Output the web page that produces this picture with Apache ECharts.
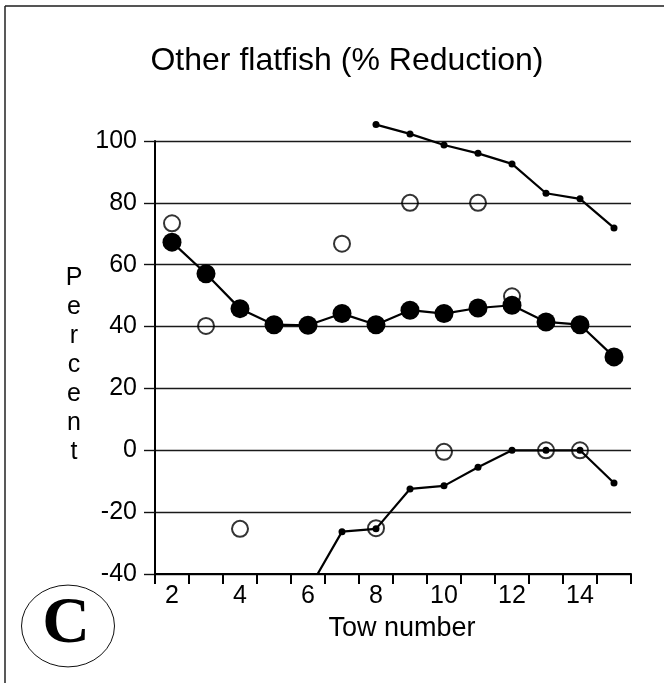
<!DOCTYPE html>
<html>
<head>
<meta charset="utf-8">
<script src="https://cdn.jsdelivr.net/npm/echarts@6/dist/echarts.min.js"></script>
<style>
  html, body { margin: 0; padding: 0; background: #fff; }
  #chart { width: 664px; height: 683px; }
</style>
</head>
<body>
<div id="chart"></div>
<script>
// Tow numbers along the x axis
const tows = ['2', '3', '4', '5', '6', '7', '8', '9', '10', '11', '12', '13', '14', '15'];

// Mean percent reduction per tow (large filled circles)
const meanPct = [67.3, 57.1, 45.8, 40.6, 40.4, 44.2, 40.6, 45.3, 44.2, 46.0, 46.9, 41.5, 40.6, 30.2];

// Upper bound line (small dots), tows 8-15
const upperPct = [null, null, null, null, null, null, 105.3, 102.3, 98.7, 96.0, 92.6, 83.1, 81.3, 71.9];

// Lower bound line (small dots), tows 6-15
const lowerPct = [null, null, null, null, -45.4, -26.3, -25.4, -12.5, -11.5, -5.5, 0, 0, 0, -10.6];

// Individual tow values (open circles)
const towPct = [73.4, 40.2, -25.4, null, null, 66.8, -25.2, 80, -0.5, 80, 49.8, 0, 0, null];

// Y axis range and step
const yMin = -40, yMax = 100, yStep = 20;

const FONT = '"Liberation Sans", Arial, Helvetica, sans-serif';

const chart = echarts.init(document.getElementById('chart'), null, { renderer: 'canvas' });

chart.setOption({
  backgroundColor: '#fff',
  animation: false,
  title: {
    text: 'Other flatfish (% Reduction)',
    left: 342,
    textAlign: 'center',
    top: 40,
    textStyle: { fontFamily: FONT, fontSize: 32, fontWeight: 'normal', color: '#000' }
  },
  grid: { left: 155, right: 33, top: 141, bottom: 109, containLabel: false },
  xAxis: {
    type: 'category',
    data: tows,
    boundaryGap: true,
    axisLine: { show: true, onZero: false, lineStyle: { color: '#000', width: 2 } },
    axisTick: { show: true, interval: 0, inside: false, length: 10, lineStyle: { color: '#000', width: 2 } },
    axisLabel: { interval: 1, margin: 10, fontFamily: FONT, fontSize: 25, color: '#000' },
    splitLine: { show: false },
    name: 'Tow number',
    nameLocation: 'middle',
    nameGap: 41,
    nameTextStyle: { fontFamily: FONT, fontSize: 27, color: '#000', padding: [0, 0, 0, 18] }
  },
  yAxis: {
    type: 'value',
    min: yMin,
    max: yMax,
    interval: yStep,
    axisLine: { show: true, lineStyle: { color: '#000', width: 2 } },
    axisTick: { show: true, inside: false, length: 11, lineStyle: { color: '#111', width: 1.4 } },
    axisLabel: { margin: 18, fontFamily: FONT, fontSize: 25, color: '#000' },
    splitLine: { show: true, lineStyle: { color: '#1a1a1a', width: 1.3 } }
  },
  series: [
    {
      name: 'Tows',
      type: 'scatter',
      data: towPct,
      symbol: 'circle',
      symbolSize: 16,
      z: 1,
      itemStyle: { color: 'rgba(0,0,0,0)', borderColor: '#000', borderWidth: 2 },
      emphasis: { disabled: true },
      clip: false
    },
    {
      name: 'Upper',
      type: 'line',
      data: upperPct,
      symbol: 'circle',
      symbolSize: 7,
      z: 2,
      lineStyle: { color: '#000', width: 2.2 },
      itemStyle: { color: '#000' },
      emphasis: { disabled: true },
      clip: false
    },
    {
      name: 'Lower',
      type: 'line',
      data: lowerPct,
      symbol: 'circle',
      symbolSize: 7,
      z: 2,
      lineStyle: { color: '#000', width: 2.2 },
      itemStyle: { color: '#000' },
      emphasis: { disabled: true },
      clip: true
    },
    {
      name: 'Mean',
      type: 'line',
      data: meanPct,
      symbol: 'circle',
      symbolSize: 19,
      z: 3,
      lineStyle: { color: '#000', width: 2.2 },
      itemStyle: { color: '#000' },
      emphasis: { disabled: true },
      clip: false
    }
  ],
  graphic: [
    // frame edges
    { type: 'line', shape: { x1: 5, y1: 6, x2: 664, y2: 6 }, style: { stroke: '#555', lineWidth: 2 } },
    { type: 'line', shape: { x1: 5, y1: 6, x2: 5, y2: 683 }, style: { stroke: '#222', lineWidth: 1.5 } },
    // vertical axis title
    {
      type: 'text',
      x: 74,
      y: 365,
      style: {
        text: 'P\ne\nr\nc\ne\nn\nt',
        font: '25px ' + FONT,
        fill: '#000',
        lineHeight: 29,
        align: 'center',
        verticalAlign: 'middle',
        textAlign: 'center',
        textVerticalAlign: 'middle'
      }
    },
    // panel letter
    {
      type: 'circle',
      x: 68,
      y: 626,
      scaleY: 0.88,
      shape: { cx: 0, cy: 0, r: 46.5 },
      style: { fill: 'none', stroke: '#000', lineWidth: 1 }
    },
    {
      type: 'text',
      x: 66,
      y: 625,
      style: {
        text: 'C',
        font: 'bold 66px "Liberation Serif", "Times New Roman", serif',
        fill: '#000',
        align: 'center',
        verticalAlign: 'middle',
        textAlign: 'center',
        textVerticalAlign: 'middle'
      }
    }
  ]
});
</script>
</body>
</html>
